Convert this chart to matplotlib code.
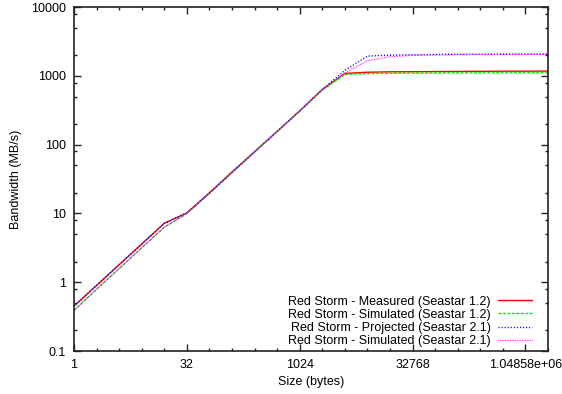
import matplotlib
matplotlib.use('Agg')
import matplotlib.pyplot as plt
from matplotlib.ticker import FixedLocator, NullFormatter

plt.rcParams['font.family'] = ['Liberation Sans', 'DejaVu Sans']
plt.rcParams['font.size'] = 9

# Message size (bytes)
sizes = [1, 2, 4, 8, 16, 32, 64, 128, 256, 512, 1024, 2048, 4096, 8192,
         16384, 32768, 65536, 131072, 262144, 524288, 1048576, 2097152]

# Bandwidth (MB/s)
measured_12 = [0.45, 0.9, 1.8, 3.6, 7.2, 10.2, 20, 40, 79, 156, 310, 630, 1085,
               1130, 1145, 1150, 1155, 1160, 1165, 1170, 1170, 1175]
simulated_12 = [0.39, 0.79, 1.58, 3.17, 6.3, 10.0, 19.5, 39, 78, 155, 308, 620,
                1050, 1080, 1090, 1095, 1100, 1105, 1105, 1110, 1110, 1110]
projected_21 = [0.45, 0.9, 1.8, 3.6, 7.2, 10.2, 20, 40, 79, 156, 310, 640, 1200,
                1940, 2000, 2030, 2050, 2060, 2070, 2075, 2080, 2080]
simulated_21 = [0.39, 0.79, 1.58, 3.17, 6.3, 10.0, 19.5, 39, 78, 155, 308, 640,
                1100, 1660, 1900, 1980, 2010, 2030, 2040, 2050, 2050, 2050]

labels = ['Red Storm - Measured (Seastar 1.2)',
          'Red Storm - Simulated (Seastar 1.2)',
          'Red Storm - Projected (Seastar 2.1)',
          'Red Storm - Simulated (Seastar 2.1)']

xticks = [1, 32, 1024, 32768, 1048576]
xticklabels = ['1', '32', '1024', '32768', '1.04858e+06']
yticks = [0.1, 1, 10, 100, 1000, 10000]
yticklabels = ['0.1', '1', '10', '100', '1000', '10000']

fig = plt.figure(figsize=(5.62, 3.94), dpi=100)
ax = fig.add_axes([0.1317, 0.109, 0.9751 - 0.1317, 0.982 - 0.109])

ax.plot(sizes, measured_12, color='#ff0000', lw=1.0, label=labels[0])
ax.plot(sizes, simulated_12, color='#00ee00', lw=1.0, dashes=(2.2, 1.0), label=labels[1])
ax.plot(sizes, projected_21, color='#0000ff', lw=1.0, dashes=(0.8, 1.4), label=labels[2])
ax.plot(sizes, simulated_21, color='#ff00ff', lw=0.8, dashes=(0.7, 0.8), label=labels[3])

ax.set_xscale('log', base=2)
ax.set_yscale('log')
ax.set_xlim(1, 2097152)
ax.set_ylim(0.1, 10000)

ax.xaxis.set_major_locator(FixedLocator(xticks))
ax.set_xticklabels(xticklabels)
ax.xaxis.set_minor_locator(FixedLocator([s for s in sizes if s not in xticks]))
ax.xaxis.set_minor_formatter(NullFormatter())

ax.yaxis.set_major_locator(FixedLocator(yticks))
ax.set_yticklabels(yticklabels)
yminor = [m * 10.0 ** e for e in range(-1, 4) for m in (2, 5, 8)]
ax.yaxis.set_minor_locator(FixedLocator(yminor))
ax.yaxis.set_minor_formatter(NullFormatter())

ax.tick_params(which='both', direction='in', top=True, right=True, colors='#222222')
ax.tick_params(which='major', length=5, width=1.0, pad=6, labelcolor='black')
ax.tick_params(which='minor', length=2.5, width=1.0)
for sp in ax.spines.values():
    sp.set_linewidth(1.2)
    sp.set_color('#222222')

ax.set_xlabel('Size (bytes)', labelpad=3)
ax.set_ylabel('Bandwidth (MB/s)', labelpad=6)

ax.legend(loc='lower right', bbox_to_anchor=(0.966, 0.011), markerfirst=False,
          frameon=False, handlelength=2.7, handletextpad=0.6, labelspacing=0.1,
          borderaxespad=0, borderpad=0, fontsize=9)

fig.savefig('out.png', dpi=100)
